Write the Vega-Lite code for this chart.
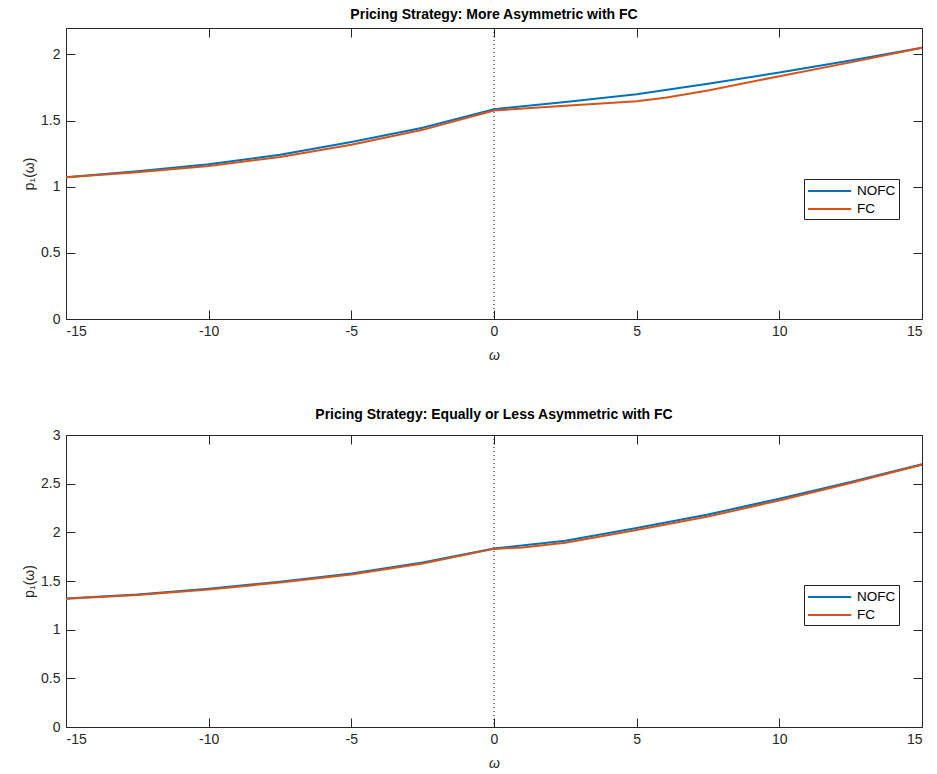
{
  "$schema": "https://vega.github.io/schema/vega-lite/v6.json",
  "background": "white",
  "padding": {"left": 22, "top": 7, "right": 5, "bottom": 5},
  "config": {
    "font": "Liberation Sans",
    "view": {"stroke": null},
    "axis": {
      "domainColor": "#262626",
      "tickColor": "#262626",
      "labelColor": "#262626",
      "titleColor": "#262626",
      "labelFont": "Liberation Sans",
      "titleFont": "Liberation Sans",
      "labelFontSize": 14,
      "titleFontSize": 14,
      "titleFontWeight": "normal",
      "tickSize": -9,
      "grid": false,
      "domainWidth": 1,
      "tickWidth": 1
    },
    "legend": {
      "labelFont": "Liberation Sans",
      "labelFontSize": 13.5,
      "labelColor": "black"
    },
    "title": {"font": "Liberation Sans", "fontSize": 14, "fontWeight": "bold", "color": "black", "anchor": "middle"}
  },
  "datasets": {
    "curves": [
      {"panel": "top", "series": "NOFC", "w": -15, "p": 1.071},
      {"panel": "top", "series": "NOFC", "w": -12.5, "p": 1.117},
      {"panel": "top", "series": "NOFC", "w": -10, "p": 1.170},
      {"panel": "top", "series": "NOFC", "w": -7.5, "p": 1.242},
      {"panel": "top", "series": "NOFC", "w": -5, "p": 1.338},
      {"panel": "top", "series": "NOFC", "w": -2.5, "p": 1.446},
      {"panel": "top", "series": "NOFC", "w": 0, "p": 1.586},
      {"panel": "top", "series": "NOFC", "w": 2.5, "p": 1.640},
      {"panel": "top", "series": "NOFC", "w": 5, "p": 1.700},
      {"panel": "top", "series": "NOFC", "w": 7.5, "p": 1.778},
      {"panel": "top", "series": "NOFC", "w": 10, "p": 1.864},
      {"panel": "top", "series": "NOFC", "w": 12.5, "p": 1.955},
      {"panel": "top", "series": "NOFC", "w": 15, "p": 2.050},
      {"panel": "top", "series": "FC", "w": -15, "p": 1.071},
      {"panel": "top", "series": "FC", "w": -12.5, "p": 1.110},
      {"panel": "top", "series": "FC", "w": -10, "p": 1.157},
      {"panel": "top", "series": "FC", "w": -7.5, "p": 1.225},
      {"panel": "top", "series": "FC", "w": -5, "p": 1.318},
      {"panel": "top", "series": "FC", "w": -2.5, "p": 1.430},
      {"panel": "top", "series": "FC", "w": 0, "p": 1.576},
      {"panel": "top", "series": "FC", "w": 2.5, "p": 1.612},
      {"panel": "top", "series": "FC", "w": 5, "p": 1.646},
      {"panel": "top", "series": "FC", "w": 6, "p": 1.672},
      {"panel": "top", "series": "FC", "w": 7.5, "p": 1.728},
      {"panel": "top", "series": "FC", "w": 10, "p": 1.836},
      {"panel": "top", "series": "FC", "w": 12.5, "p": 1.940},
      {"panel": "top", "series": "FC", "w": 15, "p": 2.050},
      {"panel": "bottom", "series": "NOFC", "w": -15, "p": 1.321},
      {"panel": "bottom", "series": "NOFC", "w": -12.5, "p": 1.362},
      {"panel": "bottom", "series": "NOFC", "w": -10, "p": 1.421},
      {"panel": "bottom", "series": "NOFC", "w": -7.5, "p": 1.493},
      {"panel": "bottom", "series": "NOFC", "w": -5, "p": 1.576},
      {"panel": "bottom", "series": "NOFC", "w": -2.5, "p": 1.690},
      {"panel": "bottom", "series": "NOFC", "w": 0, "p": 1.834},
      {"panel": "bottom", "series": "NOFC", "w": 2.5, "p": 1.914},
      {"panel": "bottom", "series": "NOFC", "w": 5, "p": 2.045},
      {"panel": "bottom", "series": "NOFC", "w": 7.5, "p": 2.183},
      {"panel": "bottom", "series": "NOFC", "w": 10, "p": 2.345},
      {"panel": "bottom", "series": "NOFC", "w": 12.5, "p": 2.517},
      {"panel": "bottom", "series": "NOFC", "w": 15, "p": 2.700},
      {"panel": "bottom", "series": "FC", "w": -15, "p": 1.318},
      {"panel": "bottom", "series": "FC", "w": -12.5, "p": 1.356},
      {"panel": "bottom", "series": "FC", "w": -10, "p": 1.413},
      {"panel": "bottom", "series": "FC", "w": -7.5, "p": 1.484},
      {"panel": "bottom", "series": "FC", "w": -5, "p": 1.566},
      {"panel": "bottom", "series": "FC", "w": -2.5, "p": 1.680},
      {"panel": "bottom", "series": "FC", "w": 0, "p": 1.830},
      {"panel": "bottom", "series": "FC", "w": 1, "p": 1.845},
      {"panel": "bottom", "series": "FC", "w": 2.5, "p": 1.893},
      {"panel": "bottom", "series": "FC", "w": 5, "p": 2.024},
      {"panel": "bottom", "series": "FC", "w": 7.5, "p": 2.162},
      {"panel": "bottom", "series": "FC", "w": 10, "p": 2.328},
      {"panel": "bottom", "series": "FC", "w": 12.5, "p": 2.507},
      {"panel": "bottom", "series": "FC", "w": 15, "p": 2.695}
    ],
    "zero": [{"w": 0}]
  },
  "spacing": 46,
  "vconcat": [
    {
      "title": {"text": "Pricing Strategy: More Asymmetric with FC", "offset": 6},
      "width": 856,
      "height": 291,
      "layer": [
        {
          "data": {"name": "zero"},
          "mark": {"type": "rule", "color": "black", "strokeDash": [1, 3], "strokeWidth": 1},
          "encoding": {
            "x": {"field": "w", "type": "quantitative", "scale": {"domain": [-15, 15], "nice": false},
                  "axis": {"orient": "top", "labels": false, "title": null, "values": [-15, -10, -5, 0, 5, 10, 15]}}
          }
        },
        {
          "data": {"name": "curves"},
          "transform": [{"filter": "datum.panel == 'top'"}],
          "mark": {"type": "line", "strokeWidth": 2},
          "encoding": {
            "x": {"field": "w", "type": "quantitative", "scale": {"domain": [-15, 15], "nice": false},
                  "axis": {"orient": "bottom", "title": "ω", "titleFontStyle": "italic", "values": [-15, -10, -5, 0, 5, 10, 15], "labelExpr": "replace(datum.label, '−', '-')", "labelPadding": 14, "titlePadding": 10}},
            "y": {"field": "p", "type": "quantitative", "scale": {"domain": [0, 2.2], "nice": false},
                  "axis": {"orient": "left", "title": "p₁(ω)", "values": [0, 0.5, 1, 1.5, 2], "format": "~g", "labelPadding": 15, "titlePadding": 4}},
            "color": {"field": "series", "type": "nominal",
                      "scale": {"domain": ["NOFC", "FC"], "range": ["#0072BD", "#D95319"]},
                      "legend": {"orient": "none", "legendX": 738, "legendY": 151, "title": null,
                                 "symbolType": "M-1,0H4.4", "symbolSize": 256, "symbolStrokeWidth": 2,
                                 "labelOffset": 32, "rowPadding": 2, "padding": 3,
                                 "strokeColor": "#262626", "fillColor": "white"}}
          }
        },
        {
          "data": {"name": "curves"},
          "transform": [{"filter": "datum.panel == 'top'"}],
          "mark": {"type": "line", "opacity": 0},
          "encoding": {
            "x": {"field": "w", "type": "quantitative", "axis": null},
            "y": {"field": "p", "type": "quantitative",
                  "axis": {"orient": "right", "labels": false, "title": null, "values": [0, 0.5, 1, 1.5, 2]}},
            "detail": {"field": "series"}
          }
        }
      ],
      "resolve": {"axis": {"x": "independent", "y": "independent"}}
    },
    {
      "title": {"text": "Pricing Strategy: Equally or Less Asymmetric with FC", "offset": 6},
      "width": 856,
      "height": 292,
      "layer": [
        {
          "data": {"name": "zero"},
          "mark": {"type": "rule", "color": "black", "strokeDash": [1, 3], "strokeWidth": 1},
          "encoding": {
            "x": {"field": "w", "type": "quantitative", "scale": {"domain": [-15, 15], "nice": false},
                  "axis": {"orient": "top", "labels": false, "title": null, "values": [-15, -10, -5, 0, 5, 10, 15]}}
          }
        },
        {
          "data": {"name": "curves"},
          "transform": [{"filter": "datum.panel == 'bottom'"}],
          "mark": {"type": "line", "strokeWidth": 2},
          "encoding": {
            "x": {"field": "w", "type": "quantitative", "scale": {"domain": [-15, 15], "nice": false},
                  "axis": {"orient": "bottom", "title": "ω", "titleFontStyle": "italic", "values": [-15, -10, -5, 0, 5, 10, 15], "labelExpr": "replace(datum.label, '−', '-')", "labelPadding": 14, "titlePadding": 10}},
            "y": {"field": "p", "type": "quantitative", "scale": {"domain": [0, 3], "nice": false},
                  "axis": {"orient": "left", "title": "p₁(ω)", "values": [0, 0.5, 1, 1.5, 2, 2.5, 3], "format": "~g", "labelPadding": 15, "titlePadding": 4}},
            "color": {"field": "series", "type": "nominal",
                      "scale": {"domain": ["NOFC", "FC"], "range": ["#0072BD", "#D95319"]},
                      "legend": {"orient": "none", "legendX": 738, "legendY": 150, "title": null,
                                 "symbolType": "M-1,0H4.4", "symbolSize": 256, "symbolStrokeWidth": 2,
                                 "labelOffset": 32, "rowPadding": 2, "padding": 3,
                                 "strokeColor": "#262626", "fillColor": "white"}}
          }
        },
        {
          "data": {"name": "curves"},
          "transform": [{"filter": "datum.panel == 'bottom'"}],
          "mark": {"type": "line", "opacity": 0},
          "encoding": {
            "x": {"field": "w", "type": "quantitative", "axis": null},
            "y": {"field": "p", "type": "quantitative",
                  "axis": {"orient": "right", "labels": false, "title": null, "values": [0, 0.5, 1, 1.5, 2, 2.5, 3]}},
            "detail": {"field": "series"}
          }
        }
      ],
      "resolve": {"axis": {"x": "independent", "y": "independent"}}
    }
  ],
  "resolve": {"scale": {"color": "independent"}}
}
